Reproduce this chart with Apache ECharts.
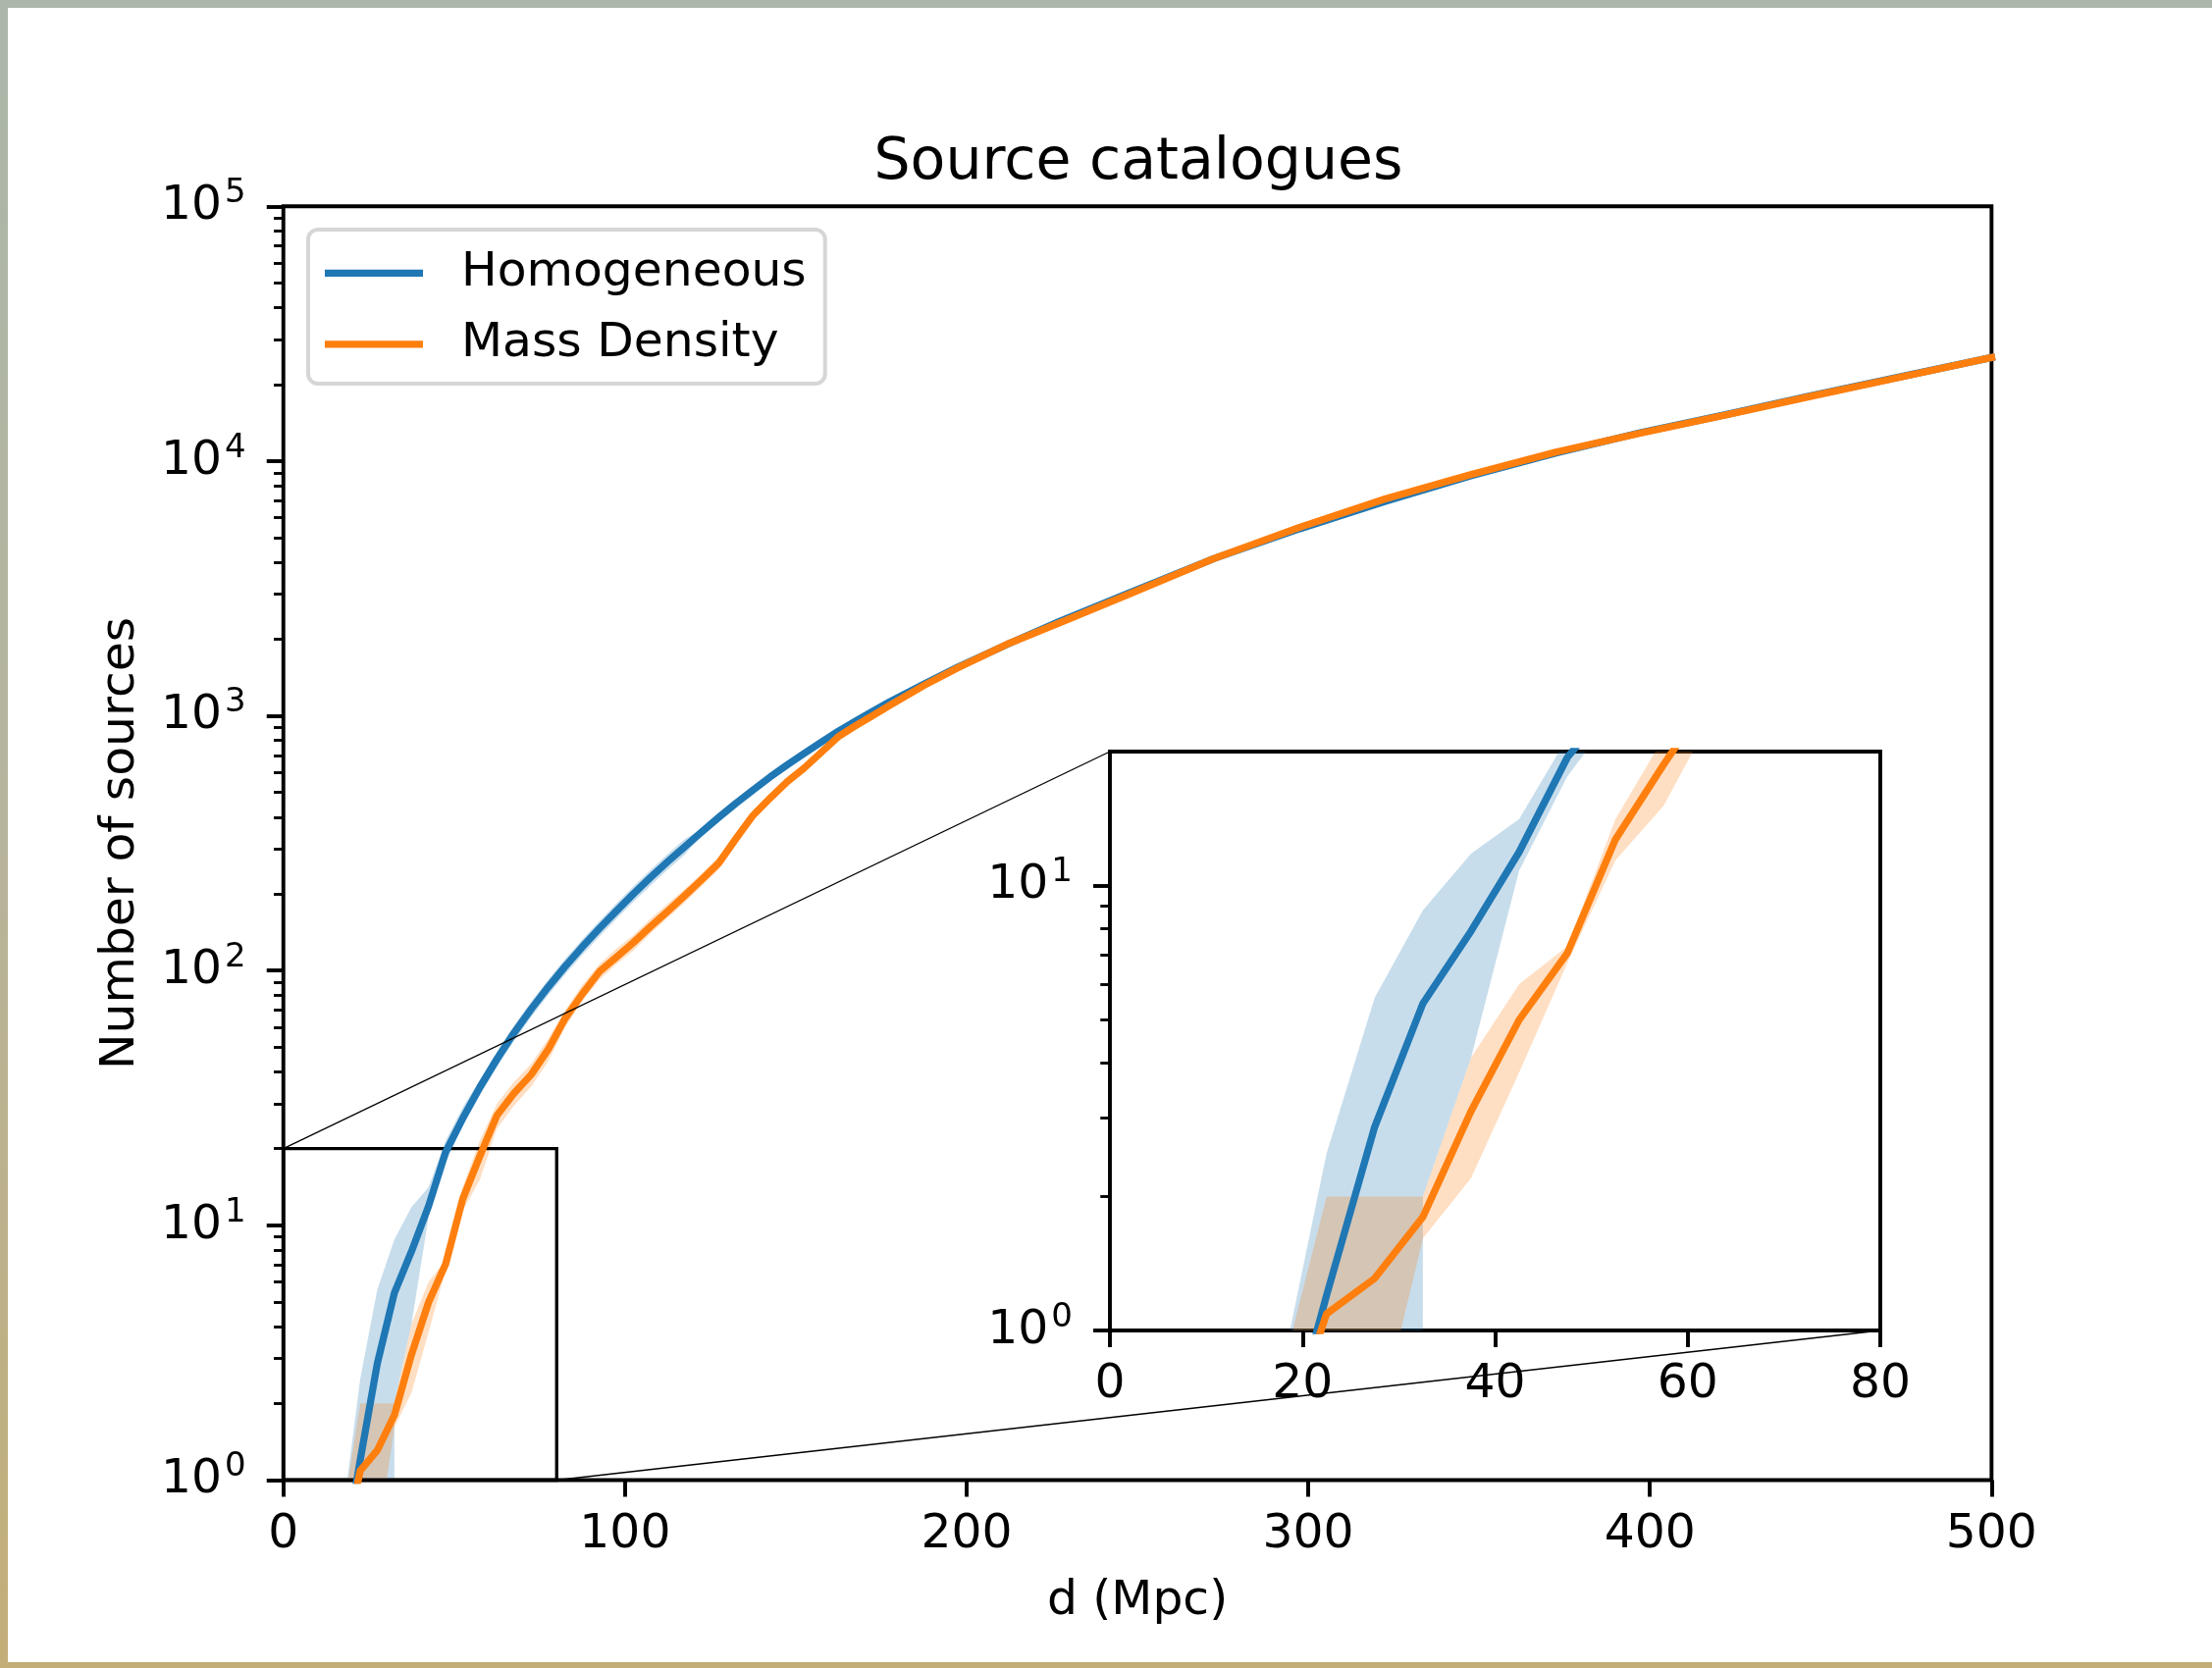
<!DOCTYPE html>
<html>
<head>
<meta charset="utf-8">
<title>Source catalogues</title>
<script src="https://cdn.jsdelivr.net/npm/echarts@6.0.0/dist/echarts.min.js"></script>
<style>
  html, body { margin: 0; padding: 0; }
  #frame { position: relative; width: 2254px; height: 1700px;
           background: linear-gradient(180deg, #aab7aa 0%, #b7b49c 50%, #c3ae77 100%); }
  #statistics { position: absolute; left: 8px; top: 8px; width: 2246px; height: 1686px; background: #fff; }
</style>
</head>
<body>
<div id="frame"><div id="statistics"></div></div>
<script type="text/javascript">

  // distance bins (Mpc)
  var distances = [17.5, 22.5, 27.5, 32.5, 37.5, 42.5, 47.5, 52.5, 57.5, 62.5, 67.5, 72.5, 77.5,
    82.5, 87.5, 92.5, 97.5, 102.5, 107.5, 112.5, 117.5, 122.5, 127.5, 132.5, 137.5, 142.5,
    147.5, 152.5, 157.5, 162.5, 167.5, 172.5, 177.5, 187.5, 197.5, 212.5, 227.5, 247.5,
    272.5, 297.5, 322.5, 347.5, 372.5, 397.5, 422.5, 447.5, 472.5, 500];

  // Homogeneous catalogue: mean and band
  var homMean = [0.48, 1.2, 2.87, 5.43, 7.9, 11.9, 19.4, 26.3, 34.8, 44.9, 56.9, 70.5, 86.1,
    103.9, 123.9, 146.4, 171.5, 200.3, 232.3, 267.7, 306.6, 351, 400, 454, 512, 576,
    642, 713, 789, 871, 954, 1042, 1135, 1332, 1556, 1925, 2360, 3035,
    4150, 5424, 6943, 8750, 10750, 12950, 15240, 18100, 21300, 25500];
  var homLow = [0, 0, 0, 2.0, 4.1, 10.8, 17.6, 24.5, 32.4, 41.8, 52.9, 65.6, 80.1,
    96.6, 115.2, 136.2, 159.5, 186.3, 216, 249, 285, 342, 390, 443, 499, 562,
    626, 695, 769, 849, 930, 1016, 1107, 1317, 1538, 1906, 2336, 3005,
    4108, 5370, 6874, 8663, 10643, 12820, 15088, 17919, 21087, 25245];
  var homHigh = [0.75, 2.5, 5.6, 8.8, 11.8, 14.1, 21.5, 29, 37.2, 48.0, 60.9, 75.4, 92.1,
    111.2, 132.6, 156.6, 183.5, 214.3, 248.6, 286.4, 328, 360, 410, 465, 525, 590,
    658, 731, 809, 893, 978, 1068, 1163, 1345, 1572, 1944, 2384, 3065,
    4192, 5478, 7012, 8838, 10858, 13080, 15392, 18281, 21513, 25755];

  // Mass Density catalogue: mean and band
  var massMean = [0.52, 1.09, 1.31, 1.80, 3.11, 4.99, 7.05, 12.7, 18.7, 27, 33, 39, 49,
    65, 81, 99, 113, 129, 149, 171, 197, 228, 265, 330, 407, 476,
    552, 625, 720, 830, 914, 1002, 1100, 1316, 1545, 1928, 2325, 3000,
    4150, 5500, 7100, 8850, 10850, 12900, 15200, 18000, 21250, 25500];
  var massLow = [0, 0, 0.57, 1.61, 2.2, 3.8, 6.7, 11.4, 15.1, 24, 29.5, 35, 44,
    60, 76, 92, 106, 120, 140, 161, 185, 215, 250, 312, 390, 458,
    530, 605, 700, 810, 895, 982, 1080, 1300, 1528, 1908, 2300, 2970,
    4110, 5450, 7030, 8760, 10740, 12770, 15050, 17820, 21040, 25250];
  var massHigh = [0.75, 2, 2, 2, 4.1, 6.0, 7.3, 14.1, 21.5, 30, 36.5, 43, 54,
    70, 88, 106, 122, 138, 160, 183, 209, 241, 280, 348, 426, 496,
    572, 645, 740, 850, 933, 1022, 1120, 1330, 1562, 1948, 2350, 3030,
    4190, 5550, 7170, 8940, 10960, 13030, 15350, 18180, 21460, 25750];

  // axis limits and ticks
  var mainX = [0, 500];
  var mainY = [1, 100000];
  var insetX = [0, 80];
  var insetY = [1, 20];
  var mainMajor = [1, 10, 100, 1000, 10000, 100000];
  var insetMajor = [1, 10];
  var mantissas = [2, 3, 4, 5, 6, 7, 8, 9];

  var mainMinor = [];
  [1, 10, 100, 1000, 10000].forEach(function (p) {
    mantissas.forEach(function (m) { mainMinor.push(m * p); });
  });

  var BLUE = '#1f77b4', ORANGE = '#ff7f0e';
  var FONT = 'DejaVu Sans';
  var FS = 48.75;

  function pairs(ys) {
    return distances.map(function (d, i) { return [d, ys[i]]; });
  }

  function bandRenderer(lower, upper, fill) {
    return function (params, api) {
      if (params.dataIndex !== 0) return null;
      var cs = params.coordSys;
      var below = cs.y + cs.height + 100000;
      function pt(i, v) {
        var p = api.coord([distances[i], v > 0 ? v : 1]);
        return [p[0], v > 0 ? p[1] : below];
      }
      var points = [];
      for (var i = 0; i < distances.length; i++) points.push(pt(i, upper[i]));
      for (var j = distances.length - 1; j >= 0; j--) points.push(pt(j, lower[j]));
      return {
        type: 'polygon',
        shape: { points: points },
        style: { fill: fill },
        clipPath: { type: 'rect', shape: { x: cs.x, y: cs.y, width: cs.width, height: cs.height } }
      };
    };
  }

  function boxRenderer(params, api) {
    var a = api.coord([insetX[0], insetY[1]]);
    var b = api.coord([insetX[1], insetY[0]]);
    return {
      type: 'rect',
      shape: { x: a[0], y: a[1], width: b[0] - a[0], height: b[1] - a[1] },
      style: { fill: 'none', stroke: '#000', lineWidth: 3.3 }
    };
  }

  function powerLabel(v) {
    return '{b|10}{s|' + Math.round(Math.log10(v)) + '}';
  }

  var powRich = {
    b: { fontSize: FS, fontFamily: FONT, color: '#000' },
    s: { fontSize: 34, fontFamily: FONT, color: '#000', padding: [0, 0, 26, 3] }
  };

  function xAxisFor(grid, range, step, name) {
    return {
      type: 'value', gridIndex: grid, min: range[0], max: range[1], interval: step,
      name: name, nameLocation: 'middle', nameGap: 99,
      nameTextStyle: { fontSize: FS, fontFamily: FONT, color: '#000' },
      axisLine: { show: false },
      axisTick: { show: true, inside: false, length: 17, lineStyle: { color: '#000', width: 3.9 } },
      axisLabel: { margin: 31, fontSize: FS, fontFamily: FONT, color: '#000' },
      splitLine: { show: false }
    };
  }

  function yMajorFor(grid, range, ticks, name) {
    return {
      type: 'log', gridIndex: grid, min: range[0], max: range[1], position: 'left', offset: 0,
      name: name, nameLocation: 'middle', nameRotate: 90, nameGap: 141,
      nameTextStyle: { fontSize: FS, fontFamily: FONT, color: '#000' },
      axisLine: { show: false },
      axisTick: { show: true, inside: false, length: 17, customValues: ticks,
        lineStyle: { color: '#000', width: 3.9 } },
      axisLabel: { customValues: ticks, margin: 38, formatter: powerLabel, rich: powRich,
        fontSize: FS, fontFamily: FONT, color: '#000' },
      splitLine: { show: false }
    };
  }

  function yMinorFor(grid, range, ticks) {
    return {
      type: 'log', gridIndex: grid, min: range[0], max: range[1], position: 'left', offset: 0,
      axisLine: { show: false },
      axisTick: { show: true, inside: false, length: 9.75, customValues: ticks,
        lineStyle: { color: '#000', width: 2.9 } },
      axisLabel: { show: false },
      splitLine: { show: false }
    };
  }

  function seriesFor(xi, yi) {
    return [
      { type: 'custom', name: 'Homogeneous range', xAxisIndex: xi, yAxisIndex: yi, z: 1, clip: true,
        silent: true, data: [[distances[0], homHigh[0]]],
        renderItem: bandRenderer(homLow, homHigh, 'rgba(31,119,180,0.25)') },
      { type: 'custom', name: 'Mass Density range', xAxisIndex: xi, yAxisIndex: yi, z: 1, clip: true,
        silent: true, data: [[distances[0], massHigh[0]]],
        renderItem: bandRenderer(massLow, massHigh, 'rgba(255,127,14,0.25)') },
      { type: 'line', name: 'Homogeneous', xAxisIndex: xi, yAxisIndex: yi, z: 2, clip: true,
        color: BLUE, showSymbol: false, symbol: 'none', data: pairs(homMean),
        lineStyle: { color: BLUE, width: 7.3, cap: 'square', join: 'round' } },
      { type: 'line', name: 'Mass Density', xAxisIndex: xi, yAxisIndex: yi, z: 3, clip: true,
        color: ORANGE, showSymbol: false, symbol: 'none', data: pairs(massMean),
        lineStyle: { color: ORANGE, width: 7.3, cap: 'square', join: 'round' } }
    ];
  }

  var mainGrid = { left: 280.75, top: 202.3, width: 1740.6, height: 1298.2 };
  var insetGrid = { left: 1123, top: 758, width: 785, height: 590 };

  var myChart = echarts.init(document.getElementById('statistics'));

  var option = {
    animation: false,
    backgroundColor: '#fff',
    title: {
      text: 'Source catalogues', left: 1152, top: 129, textAlign: 'center', padding: 0,
      textStyle: { fontSize: 58.5, fontWeight: 'normal', fontFamily: FONT, color: '#000' }
    },
    legend: {
      data: [{ name: 'Homogeneous', icon: 'rect' }, { name: 'Mass Density', icon: 'rect' }],
      orient: 'vertical', left: 306, top: 226,
      itemWidth: 100, itemHeight: 7.3, itemGap: 23.5,
      padding: [19.8, 19, 15.7, 17],
      borderColor: '#d6d6d6', borderWidth: 4, borderRadius: 10,
      backgroundColor: 'rgba(255,255,255,0.8)',
      selectedMode: false,
      textStyle: { fontSize: FS, fontFamily: FONT, color: '#000', lineHeight: 49, padding: [0, 0, 0, 34] }
    },
    grid: [
      { left: mainGrid.left, top: mainGrid.top, width: mainGrid.width, height: mainGrid.height,
        show: true, borderColor: '#000', borderWidth: 3.9, backgroundColor: 'transparent' },
      { left: insetGrid.left, top: insetGrid.top, width: insetGrid.width, height: insetGrid.height,
        show: true, borderColor: '#000', borderWidth: 3.9, backgroundColor: '#fff' }
    ],
    xAxis: [xAxisFor(0, mainX, 100, 'd (Mpc)'), xAxisFor(1, insetX, 20, '')],
    yAxis: [
      yMajorFor(0, mainY, mainMajor, 'Number of sources'),
      yMinorFor(0, mainY, mainMinor),
      yMajorFor(1, insetY, insetMajor, ''),
      yMinorFor(1, insetY, mantissas)
    ],
    series: seriesFor(0, 0).concat(seriesFor(1, 2)).concat([
      { type: 'custom', name: 'zoom box', xAxisIndex: 0, yAxisIndex: 0, z: 1, silent: true,
        data: [[insetX[0], insetY[0]]], renderItem: boxRenderer }
    ])
  };
  myChart.setOption(option);

  // connector lines from the zoom box to the inset corners
  var boxTL = myChart.convertToPixel({ xAxisIndex: 0, yAxisIndex: 0 }, [insetX[0], insetY[1]]);
  var boxBR = myChart.convertToPixel({ xAxisIndex: 0, yAxisIndex: 0 }, [insetX[1], insetY[0]]);
  var insTL = myChart.convertToPixel({ xAxisIndex: 1, yAxisIndex: 2 }, [insetX[0], insetY[1]]);
  var insBR = myChart.convertToPixel({ xAxisIndex: 1, yAxisIndex: 2 }, [insetX[1], insetY[0]]);
  myChart.setOption({
    graphic: [
      { type: 'line', z: 5, silent: true, shape: { x1: boxTL[0], y1: boxTL[1], x2: insTL[0], y2: insTL[1] },
        style: { stroke: '#000', lineWidth: 1.3 } },
      { type: 'line', z: 5, silent: true, shape: { x1: boxBR[0], y1: boxBR[1], x2: insBR[0], y2: insBR[1] },
        style: { stroke: '#000', lineWidth: 1.3 } }
    ]
  });
</script>
</body>
</html>
